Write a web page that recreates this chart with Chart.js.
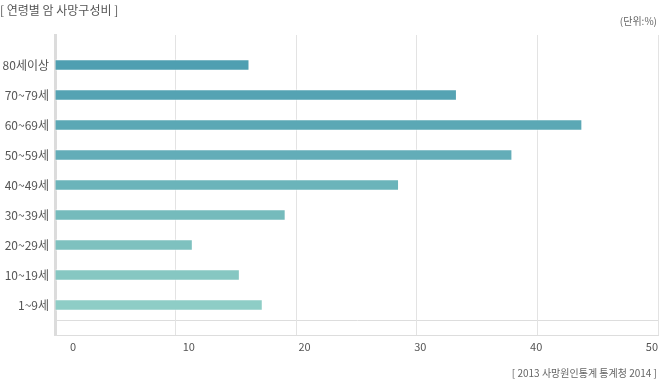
<!DOCTYPE html>
<html>
<head>
<meta charset="utf-8">
<script src="https://cdn.jsdelivr.net/npm/chart.js@4"></script>
<style>
    body { margin: 0; background: #fff; font-family: "Noto Sans CJK KR", sans-serif; }
    #wrap { position: relative; width: 660px; height: 383px; }
    .txt { position: absolute; color: #555; white-space: nowrap; }
    #title { left: 0; top: 1px; font-size: 12px; }
    #unit { right: 3px; top: 13px; font-size: 10px; color: #666; }
    #source { right: 3px; top: 365px; font-size: 10px; color: #666; }
</style>
</head>
<body>
<div id="wrap">
    <canvas id="ageChart" width="660" height="383"></canvas>
    <div class="txt" id="title">[ 연령별 암 사망구성비 ]</div>
    <div class="txt" id="unit">(단위:%)</div>
    <div class="txt" id="source">[ 2013 사망원인통계 통계청 2014 ]</div>
</div>
<script>
// 연령별 암 사망구성비 (%)
const ageGroups = ["80세이상", "70~79세", "60~69세", "50~59세", "40~49세", "30~39세", "20~29세", "10~19세", "1~9세"];
const shares = [16.1, 33.3, 43.7, 37.9, 28.5, 19.1, 11.4, 15.3, 17.2];
const xTicks = [0, 10, 20, 30, 40, 50];

const barColors = ["#4f9fb1", "#55a3b3", "#5ba8b5", "#63adb8", "#6bb4ba", "#75bbbc", "#7ec1bf", "#86c7c2", "#8ecdc6"];

// blank rows top and bottom give the frame lines and spacing
const labels = [""].concat(ageGroups, [""]);
const values = [null].concat(shares, [null]);
const colors = ["#fff"].concat(barColors, ["#fff"]);

let ctx = document.getElementById("ageChart").getContext("2d");

new Chart(ctx, {
    type: "bar",
    data: {
        labels: labels,
        datasets: [{
            data: values,
            backgroundColor: colors,
            borderColor: "rgba(255,255,255,0.55)",
            borderWidth: 1,
            borderSkipped: "start",
            barThickness: 11
        }]
    },
    options: {
        indexAxis: "y",
        responsive: false,
        animation: false,
        layout: { padding: { top: 35, right: 2, bottom: 28, left: 0 } },
        plugins: {
            legend: { display: false },
            tooltip: { enabled: false }
        },
        scales: {
            y: {
                offset: false,
                grid: {
                    color: c => (c.index === 0 || c.index === labels.length - 1) ? "#dddddd" : "rgba(0,0,0,0)",
                    drawTicks: false
                },
                border: { color: "#dcdcdc", width: 3 },
                ticks: {
                    color: "#555",
                    padding: 6,
                    font: { family: "'Noto Sans CJK KR'", size: 12 }
                },
                afterFit: s => { s.width = 55; }
            },
            x: {
                min: 0,
                max: 50,
                position: "bottom",
                grid: { color: "#e3e3e3", drawTicks: false },
                border: { color: "#dddddd", width: 1 },
                ticks: { display: false, stepSize: 10 },
                afterFit: s => { s.height = 0; }
            },
            xLabels: {
                type: "linear",
                axis: "x",
                position: "bottom",
                min: -1.55,
                max: 50.52,
                grid: { display: false, drawTicks: false },
                border: { display: false },
                afterBuildTicks: s => { s.ticks = xTicks.map(v => ({ value: v })); },
                ticks: {
                    color: "#555",
                    padding: 5,
                    maxRotation: 0,
                    font: { family: "'Noto Sans CJK KR'", size: 11 }
                },
                afterFit: s => {
                    s.height = 20;
                    s.paddingLeft = 0;
                    s.paddingRight = 0;
                }
            }
        }
    }
});
</script>
</body>
</html>
